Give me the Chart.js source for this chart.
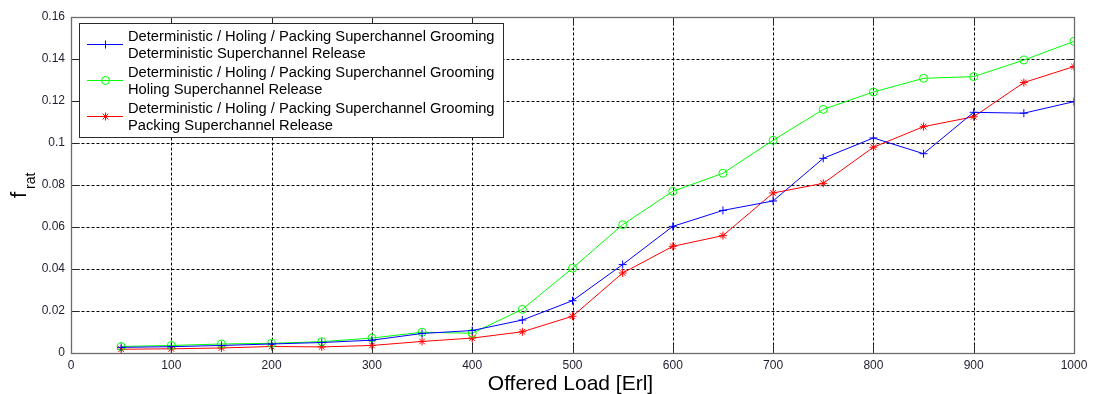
<!DOCTYPE html>
<html>
<head>
<meta charset="utf-8">
<script src="https://cdn.jsdelivr.net/npm/chart.js@4/dist/chart.umd.min.js"></script>
<style>
  html, body { margin: 0; padding: 0; background: #fff; }
  #wrap { width: 1093px; height: 394px; }
</style>
</head>
<body>
<div id="wrap"><canvas id="c" width="1093" height="394"></canvas></div>
<script>
// Offered load values (Erl)
const loads = [50, 100, 150, 200, 250, 300, 350, 400, 450, 500, 550, 600, 650, 700, 750, 800, 850, 900, 950, 1000];

// f_rat for each release policy
const deterministicRelease = [0.0027, 0.0030, 0.0036, 0.0043, 0.0050, 0.0061, 0.0093, 0.0107, 0.0157, 0.0249, 0.0421, 0.0603, 0.0679, 0.0724, 0.0927, 0.1024, 0.0949, 0.1146, 0.1142, 0.1197];
const holingRelease        = [0.0031, 0.0036, 0.0043, 0.0046, 0.0054, 0.0071, 0.0099, 0.0094, 0.0208, 0.0404, 0.0611, 0.0770, 0.0856, 0.1013, 0.1160, 0.1243, 0.1308, 0.1316, 0.1395, 0.1484];
const packingRelease       = [0.0018, 0.0020, 0.0024, 0.0031, 0.0029, 0.0036, 0.0055, 0.0071, 0.0101, 0.0175, 0.0381, 0.0508, 0.0559, 0.0762, 0.0808, 0.0980, 0.1078, 0.1125, 0.1288, 0.1364];

// Legend entries (two lines each)
const legendLines = [
  ['Deterministic / Holing / Packing Superchannel Grooming', 'Deterministic Superchannel Release'],
  ['Deterministic / Holing / Packing Superchannel Grooming', 'Holing Superchannel Release'],
  ['Deterministic / Holing / Packing Superchannel Grooming', 'Packing Superchannel Release']
];

// Axis ticks
const xTicks = [0, 100, 200, 300, 400, 500, 600, 700, 800, 900, 1000];
const yTicks = [0, 0.02, 0.04, 0.06, 0.08, 0.1, 0.12, 0.14, 0.16];
const yTickLabels = ['0', '0.02', '0.04', '0.06', '0.08', '0.1', '0.12', '0.14', '0.16'];

const FONT = '"Liberation Sans", Arial, sans-serif';

function pairs(ys) { return loads.map((x, i) => ({ x: x, y: ys[i] })); }

const seriesStyles = [
  { color: '#0000ff', style: 'cross' },
  { color: '#00ff00', style: 'circle' },
  { color: '#ff0000', style: 'star' }
];

function drawMarker(ctx, style, x, y, r, color) {
  ctx.save();
  ctx.strokeStyle = color;
  ctx.lineWidth = 1;
  ctx.beginPath();
  if (style === 'circle') {
    ctx.arc(x, y, r, 0, Math.PI * 2);
  } else {
    ctx.moveTo(x - r, y); ctx.lineTo(x + r, y);
    ctx.moveTo(x, y - r); ctx.lineTo(x, y + r);
    if (style === 'star') {
      const d = r * 0.72;
      ctx.moveTo(x - d, y - d); ctx.lineTo(x + d, y + d);
      ctx.moveTo(x - d, y + d); ctx.lineTo(x + d, y - d);
    }
  }
  ctx.stroke();
  ctx.restore();
}

// Grid, axes box and inward tick marks
const framePlugin = {
  id: 'frame',
  beforeDatasetsDraw(chart) {
    const { ctx, chartArea: a, scales } = chart;
    const L = Math.round(a.left) + 0.5, R = Math.round(a.right) + 0.5;
    const T = Math.round(a.top) + 0.5, B = Math.round(a.bottom) + 0.5;
    ctx.save();
    ctx.lineWidth = 1;
    ctx.strokeStyle = '#000';
    ctx.setLineDash([3, 2]);
    xTicks.forEach(v => {
      if (v === xTicks[0] || v === xTicks[xTicks.length - 1]) return;
      const px = Math.round(scales.x.getPixelForValue(v)) + 0.5;
      ctx.beginPath(); ctx.moveTo(px, T); ctx.lineTo(px, B); ctx.stroke();
    });
    yTicks.forEach(v => {
      if (v === yTicks[0] || v === yTicks[yTicks.length - 1]) return;
      const py = Math.round(scales.y.getPixelForValue(v)) + 0.5;
      ctx.beginPath(); ctx.moveTo(L, py); ctx.lineTo(R, py); ctx.stroke();
    });
    ctx.setLineDash([]);
    ctx.strokeStyle = '#262626';
    const tl = 8;
    xTicks.forEach(v => {
      const px = Math.round(scales.x.getPixelForValue(v)) + 0.5;
      ctx.beginPath();
      ctx.moveTo(px, B); ctx.lineTo(px, B - tl);
      ctx.moveTo(px, T); ctx.lineTo(px, T + tl);
      ctx.stroke();
    });
    yTicks.forEach(v => {
      const py = Math.round(scales.y.getPixelForValue(v)) + 0.5;
      ctx.beginPath();
      ctx.moveTo(L, py); ctx.lineTo(L + tl, py);
      ctx.moveTo(R, py); ctx.lineTo(R - tl, py);
      ctx.stroke();
    });
    ctx.strokeStyle = '#6b6b6b';
    ctx.lineWidth = 1.3;
    ctx.strokeRect(L, T, R - L, B - T);
    ctx.restore();
  },
  afterDraw(chart) {
    const { ctx, chartArea: a } = chart;
    ctx.save();
    // x axis title
    ctx.fillStyle = '#000';
    ctx.font = '21px ' + FONT;
    ctx.textAlign = 'center';
    ctx.textBaseline = 'middle';
    ctx.fillText('Offered Load [Erl]', (a.left + a.right) / 2 - 2, 384);
    // y axis title: f with subscript "rat"
    ctx.translate(26, 198);
    ctx.rotate(-Math.PI / 2);
    ctx.textAlign = 'left';
    ctx.textBaseline = 'alphabetic';
    ctx.font = '22px ' + FONT;
    ctx.fillText('f', 0, 0);
    const fw = ctx.measureText('f').width;
    ctx.font = '14px ' + FONT;
    ctx.fillText('rat', fw + 3, 9);
    ctx.restore();

    // legend box
    const bx = 79.5, by = 23.5, bw = 424, bh = 114;
    ctx.save();
    ctx.fillStyle = '#fff';
    ctx.fillRect(bx, by, bw, bh);
    ctx.strokeStyle = '#2a2a2a';
    ctx.lineWidth = 1;
    ctx.strokeRect(bx, by, bw, bh);
    ctx.font = '14.7px ' + FONT;
    ctx.textAlign = 'left';
    ctx.textBaseline = 'middle';
    legendLines.forEach((lines, i) => {
      const st = seriesStyles[i];
      const y0 = 37 + i * 36;
      const ly = Math.round(y0 + 7) + 0.5;
      ctx.strokeStyle = st.color;
      ctx.lineWidth = 1;
      ctx.beginPath(); ctx.moveTo(87, ly); ctx.lineTo(123, ly); ctx.stroke();
      drawMarker(ctx, st.style, 105.5, ly, 4, st.color);
      ctx.fillStyle = '#000';
      lines.forEach((t, j) => ctx.fillText(t, 128, y0 + j * 16.5));
    });
    ctx.restore();
  }
};

const datasetDefs = [
  { label: legendLines[0].join(' '), data: pairs(deterministicRelease) },
  { label: legendLines[1].join(' '), data: pairs(holingRelease) },
  { label: legendLines[2].join(' '), data: pairs(packingRelease) }
];

const chart = new Chart(document.getElementById('c'), {
  type: 'line',
  data: {
    datasets: datasetDefs.map((d, i) => ({
      label: d.label,
      data: d.data,
      borderColor: seriesStyles[i].color,
      backgroundColor: 'rgba(0,0,0,0)',
      borderWidth: 1,
      pointStyle: seriesStyles[i].style,
      pointRadius: 4,
      pointHoverRadius: 4,
      pointBorderWidth: 1,
      pointBorderColor: seriesStyles[i].color,
      pointBackgroundColor: 'rgba(0,0,0,0)',
      tension: 0,
      fill: false
    }))
  },
  options: {
    responsive: false,
    animation: false,
    events: [],
    layout: { padding: { top: 17, right: 19, left: 0, bottom: 0 } },
    plugins: { legend: { display: false }, tooltip: { enabled: false } },
    scales: {
      x: {
        type: 'linear',
        min: 0, max: 1000,
        afterFit(s) { s.height = 41; },
        afterBuildTicks(s) { s.ticks = xTicks.map(v => ({ value: v })); },
        grid: { display: false, drawTicks: false },
        border: { display: false },
        ticks: {
          padding: 5,
          color: '#1e1e30',
          font: { family: FONT, size: 12 },
          maxRotation: 0,
          autoSkip: false,
          callback: v => String(v)
        }
      },
      y: {
        type: 'linear',
        min: 0, max: 0.16,
        afterFit(s) { s.width = 71; },
        afterBuildTicks(s) { s.ticks = yTicks.map(v => ({ value: v })); },
        grid: { display: false, drawTicks: false },
        border: { display: false },
        ticks: {
          padding: 6,
          color: '#1e1e30',
          font: { family: FONT, size: 12 },
          autoSkip: false,
          callback: (v, i) => yTickLabels[i]
        }
      }
    }
  },
  plugins: [framePlugin]
});
</script>
</body>
</html>
